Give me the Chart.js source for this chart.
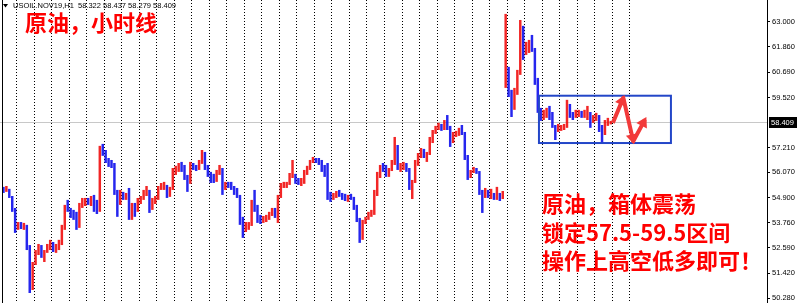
<!DOCTYPE html>
<html>
<head>
<meta charset="utf-8">
<script src="https://cdn.jsdelivr.net/npm/chart.js@4.4.0/dist/chart.umd.min.js"></script>
<style>
  html, body { margin: 0; padding: 0; background: #fff; }
  #wrap { width: 800px; height: 303px; position: relative; }
</style>
</head>
<body>
<div id="wrap"><canvas id="oilChart"></canvas></div>
<script>
// USOIL H1 bars
const highs = [
  55.40, 55.44, 55.31, 54.98, 54.43, 53.78, 53.78, 53.74, 53.65, 52.72,
  51.94, 52.49, 52.77, 52.72, 52.49, 52.77, 52.96, 52.86, 52.77, 52.96,
  53.65, 54.57, 54.80, 54.43, 54.34, 54.25, 54.66, 54.89, 54.89, 54.89,
  54.98, 55.03, 54.80, 57.29, 57.38, 57.10, 56.73, 56.64, 56.50, 55.26,
  55.26, 55.17, 55.12, 55.35, 54.66, 54.66, 54.89, 54.98, 55.26, 55.44,
  55.17, 54.89, 54.98, 55.44, 55.58, 55.63, 55.49, 55.40, 56.27, 56.37,
  56.50, 56.55, 56.41, 55.81, 56.55, 56.50, 56.41, 56.64, 57.10, 57.01,
  56.41, 56.09, 56.00, 56.18, 56.41, 56.27, 55.63, 55.63, 55.63, 55.44,
  55.35, 54.98, 54.02, 53.78, 53.78, 54.80, 55.26, 54.57, 54.11, 54.06,
  54.11, 54.25, 54.43, 54.43, 55.03, 55.58, 55.63, 55.63, 56.04, 56.64,
  55.90, 55.81, 55.81, 56.18, 56.37, 56.64, 56.78, 56.73, 56.73, 56.64,
  56.41, 56.50, 55.17, 55.12, 55.21, 55.26, 55.12, 55.08, 55.03, 55.08,
  54.94, 54.57, 53.97, 53.88, 54.02, 54.25, 54.34, 55.26, 56.09, 56.41,
  56.50, 56.41, 56.27, 56.64, 57.70, 57.33, 56.50, 56.55, 56.50, 56.27,
  55.72, 56.64, 56.96, 57.19, 57.15, 57.01, 57.70, 58.02, 58.21, 58.35,
  58.30, 58.48, 58.71, 58.12, 57.93, 57.98, 58.12, 58.25, 57.93, 56.87,
  56.18, 56.32, 56.27, 56.09, 55.26, 55.35, 55.26, 55.31, 55.12, 55.40,
  55.12, 55.21, 63.37, 60.93, 59.77, 59.96, 60.79, 63.09, 62.82, 62.08,
  62.17, 62.40, 61.80, 60.42, 59.04, 58.95, 59.04, 59.13, 58.85, 58.25,
  58.30, 58.25, 58.30, 59.41, 59.22, 58.85, 58.95, 58.95, 58.90, 58.95,
  59.13, 58.85, 58.71, 58.81, 58.71, 58.25, 58.48, 58.58, 58.44
];
const lows = [
  55.12, 55.17, 54.89, 54.25, 53.28, 53.42, 53.46, 53.42, 52.49, 50.51,
  50.65, 51.80, 52.26, 52.13, 51.94, 52.36, 52.49, 52.40, 52.36, 52.49,
  52.72, 53.42, 54.25, 53.97, 53.88, 53.42, 53.51, 54.43, 54.52, 54.57,
  54.52, 54.25, 54.15, 54.25, 56.83, 56.50, 56.32, 56.27, 55.03, 54.02,
  54.57, 54.80, 54.80, 53.88, 53.88, 54.02, 54.25, 54.61, 54.80, 54.98,
  54.20, 54.34, 54.61, 54.80, 55.26, 55.26, 54.89, 54.94, 55.26, 55.95,
  56.09, 56.09, 55.72, 55.17, 55.54, 56.18, 56.13, 56.18, 56.46, 56.18,
  55.86, 55.58, 55.58, 55.63, 55.95, 55.03, 55.26, 55.35, 55.26, 55.03,
  54.89, 53.65, 53.05, 53.32, 53.42, 53.60, 54.25, 53.74, 53.69, 53.74,
  53.78, 53.88, 54.06, 53.97, 53.74, 55.03, 55.35, 55.35, 55.49, 55.81,
  55.54, 55.49, 55.44, 55.54, 55.95, 56.18, 56.50, 56.50, 56.41, 56.09,
  55.86, 54.80, 54.71, 54.80, 54.89, 54.94, 54.80, 54.75, 54.71, 54.80,
  54.34, 53.78, 52.82, 52.96, 53.69, 53.88, 54.02, 54.11, 54.98, 55.81,
  56.09, 55.86, 55.86, 56.18, 56.41, 56.18, 56.09, 56.18, 56.09, 55.26,
  54.84, 55.63, 56.37, 56.73, 56.73, 56.55, 56.87, 57.42, 57.84, 58.02,
  57.98, 58.02, 58.02, 57.24, 57.42, 57.70, 57.75, 57.79, 56.64, 55.72,
  55.81, 56.04, 56.00, 55.03, 54.20, 54.89, 54.89, 54.84, 54.80, 54.80,
  54.75, 54.84, 59.96, 59.54, 58.62, 59.27, 59.64, 60.56, 61.25, 61.48,
  61.57, 61.62, 60.10, 58.81, 58.44, 58.48, 58.58, 58.48, 58.12, 57.56,
  57.93, 57.98, 58.02, 58.12, 58.58, 58.48, 58.58, 58.62, 58.58, 58.58,
  58.48, 58.12, 58.35, 58.44, 57.93, 57.42, 57.79, 58.21, 58.28
];
const closes = [
  55.26, 55.31, 54.98, 54.43, 53.51, 53.65, 53.55, 53.65, 52.72, 50.88,
  51.80, 52.36, 52.59, 52.26, 52.40, 52.63, 52.82, 52.49, 52.59, 52.86,
  53.51, 54.43, 54.34, 54.15, 54.06, 53.60, 54.52, 54.66, 54.75, 54.66,
  54.80, 54.43, 54.29, 57.10, 57.01, 56.64, 56.50, 56.41, 55.26, 54.57,
  55.08, 54.98, 54.98, 54.25, 54.43, 54.34, 54.75, 54.84, 55.12, 55.26,
  54.43, 54.80, 54.84, 55.35, 55.44, 55.49, 55.03, 55.26, 56.09, 56.18,
  56.37, 56.27, 55.95, 55.54, 56.37, 56.32, 56.27, 56.50, 56.87, 56.41,
  56.04, 55.81, 55.72, 56.04, 56.27, 55.26, 55.54, 55.49, 55.44, 55.17,
  55.03, 53.88, 53.32, 53.60, 53.65, 54.66, 54.48, 53.97, 53.88, 53.92,
  54.02, 54.11, 54.29, 54.15, 54.89, 55.44, 55.49, 55.54, 55.86, 56.00,
  55.72, 55.63, 55.67, 56.00, 56.23, 56.50, 56.64, 56.60, 56.55, 56.27,
  56.18, 55.03, 54.94, 54.98, 55.08, 55.03, 54.94, 54.89, 54.94, 54.84,
  54.48, 53.97, 53.19, 53.78, 53.88, 54.11, 54.20, 55.03, 55.90, 56.27,
  56.18, 56.00, 56.13, 56.50, 57.33, 56.27, 56.37, 56.41, 56.27, 55.49,
  55.58, 56.41, 56.78, 57.01, 56.87, 56.92, 57.56, 57.89, 58.07, 58.16,
  58.12, 58.30, 58.21, 57.47, 57.75, 57.84, 57.98, 57.93, 56.87, 55.95,
  56.09, 56.18, 56.13, 55.26, 54.98, 55.12, 55.08, 55.12, 54.98, 55.03,
  54.94, 55.03, 60.56, 59.87, 58.95, 59.64, 60.56, 62.72, 61.62, 61.85,
  61.94, 61.80, 60.33, 59.04, 58.62, 58.76, 58.85, 58.71, 58.25, 58.02,
  58.12, 58.16, 58.21, 58.95, 58.81, 58.67, 58.76, 58.81, 58.71, 58.81,
  58.85, 58.39, 58.58, 58.62, 58.12, 57.79, 58.25, 58.32, 58.41
];
const firstOpen = 55.30;
const gapBar = 172;      // first bar after the weekend gap
const gapOpen = 60.10;
const lastQuote = [58.322, 58.437, 58.279, 58.409]; // O H L C shown in header

const tickValues = [63.000, 61.860, 60.690, 59.520, 57.210, 56.070, 54.900, 53.760, 52.590, 51.420, 50.280];
const priceMin = 50.05;
const priceMax = 64.01;
const slotCount = 262;   // bars that fit the window, incl. empty right margin
const sepEvery = 6;      // period separator every 6 bars

// range box + zig-zag forecast (bar index, price)
const boxFrom = 183.4, boxTo = 228.6, boxLow = 57.42, boxHigh = 59.60;
const arrowPath = [[208.7, 58.35], [212.3, 59.50], [215.7, 57.50], [219.7, 58.50]];

const titleText = '原油，小时线';
const notes = ['原油，箱体震荡', '锁定57.5-59.5区间', '操作上高空低多即可！'];

const upColor = 'rgba(240,0,0,0.85)';
const downColor = 'rgba(0,0,235,0.85)';

const opens = closes.map((c, i) => i === 0 ? firstOpen : i === gapBar ? gapOpen : closes[i - 1]);
const labels = Array.from({length: slotCount}, (_, i) => i);
// each bar covers its open too, so the path stays continuous
const spans = lows.map((lo, i) => [Math.min(lo, opens[i]), Math.max(highs[i], opens[i])]);

const overlay = {
  id: 'overlay',
  beforeDatasetsDraw(chart) {
    const {ctx, chartArea: a, scales: {y}} = chart;
    const py = Math.round(y.getPixelForValue(lastQuote[3])) + 0.5;
    ctx.save();
    ctx.strokeStyle = '#c8c8c8';
    ctx.lineWidth = 1;
    ctx.beginPath();
    ctx.moveTo(0, py);
    ctx.lineTo(a.right, py);
    ctx.stroke();
    ctx.restore();
  },
  afterDraw(chart) {
    const {ctx, chartArea: a, scales: {x, y}} = chart;
    ctx.save();

    // frame sides
    ctx.strokeStyle = '#000';
    ctx.lineWidth = 1;
    ctx.beginPath();
    ctx.moveTo(a.left + 0.5, a.top); ctx.lineTo(a.left + 0.5, a.bottom);
    ctx.moveTo(a.right + 0.5, a.top); ctx.lineTo(a.right + 0.5, a.bottom);
    ctx.stroke();

    // range box
    const bx1 = x.getPixelForValue(boxFrom), bx2 = x.getPixelForValue(boxTo);
    const by1 = y.getPixelForValue(boxHigh), by2 = y.getPixelForValue(boxLow);
    ctx.strokeStyle = '#2346c8';
    ctx.lineWidth = 2;
    ctx.strokeRect(bx1, by1, bx2 - bx1, by2 - by1);

    // zig-zag arrow
    const pts = arrowPath.map(p => [x.getPixelForValue(p[0]), y.getPixelForValue(p[1])]);
    ctx.strokeStyle = '#f23a3a';
    ctx.fillStyle = '#f23a3a';
    ctx.lineWidth = 4;
    ctx.lineJoin = 'round';
    ctx.beginPath();
    pts.forEach((p, i) => i ? ctx.lineTo(p[0], p[1]) : ctx.moveTo(p[0], p[1]));
    ctx.stroke();
    for (let i = 1; i < pts.length; i++) {
      const [x0, y0] = pts[i - 1], [x1, y1] = pts[i];
      const ang = Math.atan2(y1 - y0, x1 - x0);
      const len = 10, half = 6;
      const tx = x1 + Math.cos(ang) * 3, ty = y1 + Math.sin(ang) * 3;
      const bxp = tx - Math.cos(ang) * len, byp = ty - Math.sin(ang) * len;
      ctx.beginPath();
      ctx.moveTo(tx, ty);
      ctx.lineTo(bxp + Math.sin(ang) * half, byp - Math.cos(ang) * half);
      ctx.lineTo(bxp - Math.sin(ang) * half, byp + Math.cos(ang) * half);
      ctx.closePath();
      ctx.fill();
    }

    // current price tag
    const py = Math.round(y.getPixelForValue(lastQuote[3]));
    ctx.fillStyle = '#000';
    ctx.fillRect(a.right + 2, py - 5, 28, 11);
    ctx.fillStyle = '#fff';
    ctx.font = '7.5px "Liberation Sans"';
    ctx.textBaseline = 'middle';
    ctx.textAlign = 'left';
    ctx.fillText(lastQuote[3].toFixed(3), a.right + 4, py + 0.5);

    // header line
    ctx.fillStyle = '#000';
    ctx.beginPath();
    ctx.moveTo(3, 4); ctx.lineTo(8, 4); ctx.lineTo(5.5, 7.5); ctx.closePath();
    ctx.fill();
    ctx.font = '7.5px "Liberation Sans"';
    ctx.fillText('USOIL.NOV19,H1  ' + lastQuote.map(v => v.toFixed(3)).join(' '), 13, 6);

    // red annotations
    ctx.fillStyle = '#f00';
    ctx.font = 'bold 22px "Noto Sans CJK SC"';
    ctx.fillText(titleText, 25, 23);
    const noteY = [204, 233, 261];
    notes.forEach((t, i) => ctx.fillText(t, 542, noteY[i]));

    ctx.restore();
  }
};

new Chart(document.getElementById('oilChart'), {
  type: 'bar',
  data: {
    labels: labels,
    datasets: [{
      label: 'USOIL H1',
      data: spans,
      backgroundColor: c => closes[c.dataIndex] >= opens[c.dataIndex] ? upColor : downColor,
      borderWidth: 0,
      barPercentage: 0.85,
      categoryPercentage: 1
    }]
  },
  options: {
    responsive: true,
    maintainAspectRatio: false,
    animation: false,
    layout: { padding: { left: 2, top: 0, right: 0, bottom: 0 } },
    plugins: { legend: { display: false }, tooltip: { enabled: false } },
    scales: {
      x: {
        offset: true,
        ticks: { display: false, autoSkip: false },
        grid: {
          offset: true,
          drawTicks: false,
          color: '#000',
          lineWidth: c => (c.index % sepEvery === 5 && c.index <= 215) ? 1 : 0
        },
        border: { display: false, dash: [1, 2] }
      },
      y: {
        position: 'right',
        min: priceMin,
        max: priceMax,
        afterBuildTicks: s => { s.ticks = tickValues.map(v => ({ value: v })); },
        afterFit: s => { s.width = 33; s.paddingTop = 0; s.paddingBottom = 0; },
        ticks: {
          color: '#000',
          padding: 2,
          autoSkip: false,
          font: { family: 'Liberation Sans', size: 7.5 },
          callback: v => Number(v).toFixed(3)
        },
        grid: { display: true, drawOnChartArea: false, drawTicks: true, tickLength: 3, tickColor: '#000' },
        border: { display: false }
      }
    }
  },
  plugins: [overlay]
});
</script>
</body>
</html>
